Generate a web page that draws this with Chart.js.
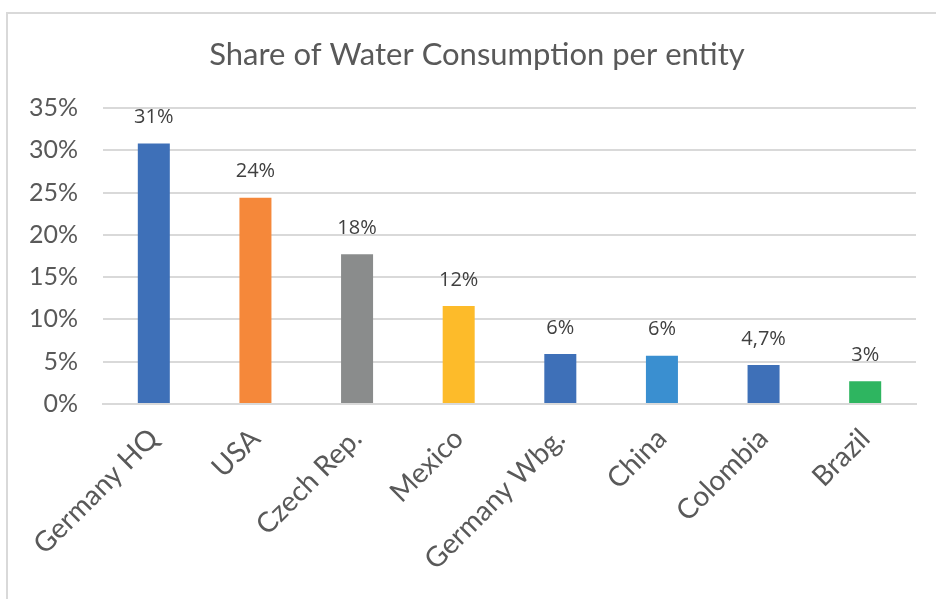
<!DOCTYPE html>
<html>
<head>
<meta charset="utf-8">
<script src="https://cdn.jsdelivr.net/npm/chart.js@4/dist/chart.umd.min.js"></script>
<style>
  html,body{margin:0;padding:0;background:#fff;}
  #wrap{position:relative;width:936px;height:599px;overflow:hidden;}
  #frame{position:absolute;left:6px;top:12px;right:-10px;bottom:-10px;border-top:2px solid #d9d9d9;border-left:2px solid #d9d9d9;}
  canvas{position:absolute;left:0;top:0;}
</style>
</head>
<body>
<div id="wrap">
  <div id="frame"></div>
  <canvas id="c" width="936" height="599"></canvas>
</div>
<script>
const chartTitle = "Share of Water Consumption per entity";
const categories = ["Germany HQ", "USA", "Czech Rep.", "Mexico", "Germany Wbg.", "China", "Colombia", "Brazil"];
const shares = [30.8, 24.4, 17.7, 11.6, 5.9, 5.7, 4.6, 2.7];
const valueLabels = ["31%", "24%", "18%", "12%", "6%", "6%", "4,7%", "3%"];
const barColors = ["#3E70B8", "#F5883A", "#8A8C8C", "#FDBB2A", "#3E70B8", "#3A8FD0", "#3E70B8", "#2EB560"];
const yTicks = [0, 5, 10, 15, 20, 25, 30, 35];

const geo = '"Lato", "DejaVu Sans", sans-serif';

const valueLabelPlugin = {
  id: 'valueLabels',
  afterDatasetsDraw(chart) {
    const ctx = chart.ctx;
    const meta = chart.getDatasetMeta(0);
    ctx.save();
    ctx.font = '20px "Open Sans", "Liberation Sans", sans-serif';
    ctx.fillStyle = '#404040';
    ctx.textAlign = 'center';
    ctx.textBaseline = 'middle';
    meta.data.forEach((bar, i) => {
      ctx.fillText(valueLabels[i], bar.x, bar.y - 26);
    });
    ctx.restore();
  }
};

const titlePlugin = {
  id: 'offsetTitle',
  afterDraw(chart) {
    const ctx = chart.ctx;
    ctx.save();
    ctx.font = '400 31px ' + geo;
    ctx.fillStyle = '#595959';
    ctx.textAlign = 'center';
    ctx.textBaseline = 'middle';
    ctx.fillText(chartTitle, chart.width / 2 + 9, 55);
    ctx.restore();
  }
};

new Chart(document.getElementById('c'), {
  type: 'bar',
  data: {
    labels: categories,
    datasets: [{
      data: shares,
      backgroundColor: barColors,
      borderWidth: 0,
      barPercentage: 0.63,
      categoryPercentage: 0.5
    }]
  },
  options: {
    responsive: false,
    animation: false,
    devicePixelRatio: 1,
    layout: { padding: { left: 0, right: 20, top: 108, bottom: 0 } },
    plugins: {
      legend: { display: false },
      tooltip: { enabled: false },
      title: { display: false }
    },
    scales: {
      x: {
        grid: { display: false, drawTicks: false },
        border: { display: true, color: '#d9d9d9', width: 2 },
        ticks: {
          color: '#595959',
          font: { family: geo, size: 28, weight: '400' },
          minRotation: 45,
          maxRotation: 45,
          padding: 18,
          autoSkip: false
        },
        afterFit(s) { s.height = 195; }
      },
      y: {
        min: 0,
        max: 35,
        afterBuildTicks(s) { s.ticks = yTicks.map(v => ({ value: v })); },
        grid: { color: '#d9d9d9', lineWidth: 2, drawTicks: false },
        border: { display: false },
        ticks: {
          color: '#595959',
          font: { family: geo, size: 25, weight: '400' },
          padding: 25,
          callback: v => v + '%'
        },
        afterFit(s) { s.width = 103; }
      }
    }
  },
  plugins: [valueLabelPlugin, titlePlugin]
});
</script>
</body>
</html>
